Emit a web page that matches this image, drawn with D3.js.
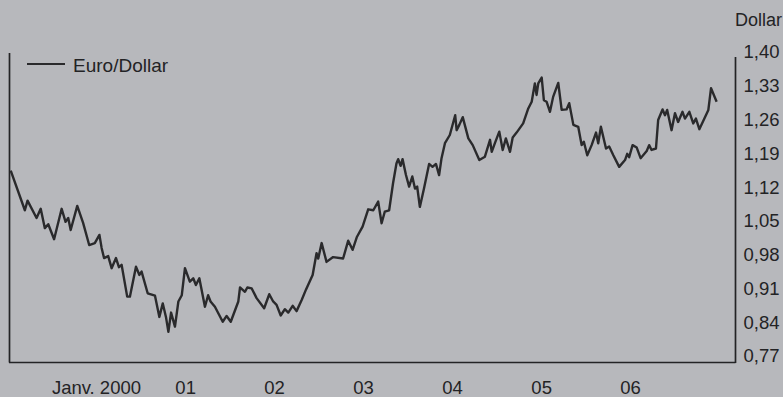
<!DOCTYPE html>
<html>
<head>
<meta charset="utf-8">
<script src="https://d3js.org/d3.v7.min.js"></script>
<style>
  html, body { margin: 0; padding: 0; background: #b7b8bc; }
  svg { display: block; }
  text { font-family: "Liberation Sans", Arial, Helvetica, sans-serif; fill: #232325; }
</style>
</head>
<body>
<svg id="chart" width="783" height="397"></svg>
<script>
// Euro / Dollar exchange rate, 1999–2006
const dates = [
  "1999-01-04","1999-03-03","1999-03-14","1999-04-20","1999-05-07","1999-05-24","1999-06-07","1999-07-01",
  "1999-08-01","1999-08-17","1999-08-28","1999-09-07","1999-10-04","1999-10-28","1999-11-22","1999-12-15",
  "2000-01-03","2000-01-12","2000-01-22","2000-02-08","2000-02-22","2000-03-11","2000-03-23","2000-04-03",
  "2000-04-26","2000-05-07","2000-06-01","2000-06-15","2000-06-24","2000-07-19","2000-08-18","2000-09-05",
  "2000-09-19","2000-10-02","2000-10-12","2000-10-23","2000-11-08","2000-11-22","2000-12-06","2000-12-19",
  "2001-01-08","2001-01-22","2001-02-02","2001-02-16","2001-03-11","2001-03-24","2001-04-03","2001-04-21",
  "2001-05-23","2001-06-08","2001-06-25","2001-07-26","2001-08-02","2001-08-22","2001-09-01","2001-09-19",
  "2001-10-09","2001-11-09","2001-11-30","2001-12-16","2001-12-30","2002-01-16","2002-02-02","2002-02-16",
  "2002-03-06","2002-03-22","2002-04-12","2002-04-30","2002-05-27","2002-06-12","2002-06-19","2002-07-03",
  "2002-07-23","2002-08-19","2002-09-29","2002-10-20","2002-11-07","2002-11-24","2002-12-18","2003-01-10",
  "2003-01-31","2003-02-20","2003-03-06","2003-03-19","2003-04-06","2003-04-22","2003-05-06","2003-05-13",
  "2003-05-23","2003-05-31","2003-06-14","2003-06-27","2003-07-10","2003-07-21","2003-07-30","2003-08-10",
  "2003-08-27","2003-09-17","2003-10-01","2003-10-15","2003-10-28","2003-11-07","2003-11-21","2003-12-11",
  "2004-01-02","2004-01-08","2004-01-19","2004-02-02","2004-02-25","2004-03-14","2004-04-10","2004-05-03",
  "2004-05-24","2004-05-31","2004-06-13","2004-07-01","2004-07-15","2004-07-28","2004-08-14","2004-08-25",
  "2004-09-10","2004-10-07","2004-10-28","2004-11-11","2004-11-24","2004-12-01","2004-12-08","2004-12-22",
  "2004-12-31","2005-01-11","2005-01-25","2005-02-07","2005-02-28","2005-03-14","2005-04-03","2005-04-14",
  "2005-05-01","2005-05-21","2005-06-04","2005-06-13","2005-06-27","2005-07-15","2005-08-02","2005-08-11",
  "2005-08-22","2005-09-12","2005-09-25","2005-10-12","2005-11-05","2005-11-29","2005-12-08","2005-12-16",
  "2005-12-30","2006-01-16","2006-02-01","2006-02-26","2006-03-08","2006-03-18","2006-04-05","2006-04-14",
  "2006-05-02","2006-05-12","2006-05-21","2006-06-08","2006-06-22","2006-07-05","2006-07-23","2006-08-02",
  "2006-08-20","2006-09-05","2006-09-16","2006-09-30","2006-10-14","2006-11-06","2006-11-17","2006-12-10"
];

const rates = [
  1.154,1.072,1.092,1.056,1.075,1.035,1.043,1.012,
  1.075,1.048,1.056,1.031,1.081,1.046,1.000,1.004,
  1.021,0.994,0.973,0.977,0.952,0.973,0.954,0.959,
  0.893,0.893,0.955,0.938,0.945,0.900,0.895,0.851,
  0.879,0.851,0.820,0.860,0.831,0.883,0.896,0.952,
  0.924,0.931,0.917,0.931,0.872,0.896,0.883,0.872,
  0.841,0.853,0.841,0.883,0.912,0.903,0.912,0.910,
  0.890,0.869,0.898,0.883,0.876,0.854,0.867,0.860,
  0.874,0.863,0.886,0.908,0.938,0.983,0.972,1.004,
  0.965,0.975,0.972,1.009,0.990,1.016,1.038,1.074,
  1.072,1.090,1.045,1.069,1.072,1.128,1.169,1.178,
  1.164,1.178,1.145,1.121,1.142,1.117,1.121,1.079,
  1.117,1.168,1.162,1.168,1.145,1.180,1.211,1.228,
  1.269,1.238,1.249,1.265,1.221,1.207,1.176,1.183,
  1.218,1.193,1.211,1.235,1.197,1.221,1.193,1.223,
  1.233,1.252,1.283,1.297,1.335,1.311,1.335,1.347,
  1.300,1.297,1.276,1.307,1.336,1.280,1.281,1.294,
  1.249,1.245,1.207,1.214,1.186,1.207,1.233,1.211,
  1.245,1.200,1.204,1.186,1.162,1.176,1.189,1.182,
  1.207,1.202,1.180,1.195,1.207,1.197,1.200,1.259,
  1.281,1.269,1.280,1.238,1.273,1.255,1.276,1.262,
  1.276,1.252,1.262,1.240,1.255,1.280,1.325,1.297
];

const yTicks = [0.77, 0.84, 0.91, 0.98, 1.05, 1.12, 1.19, 1.26, 1.33, 1.40];
const xTickDates = ["2000-01-01","2001-01-01","2002-01-01","2003-01-01","2004-01-01","2005-01-01","2006-01-01"];
const xTickLabels = ["Janv. 2000","01","02","03","04","05","06"];
const seriesName = "Euro/Dollar";
const unitLabel = "Dollar";

const parse = d3.utcParse("%Y-%m-%d");
const series = dates.map((d, i) => ({ date: parse(d), value: rates[i] }));

const svg = d3.select("#chart");
const ink = "#232325";
const fontSize = 18.5;

const x = d3.scaleUtc()
  .domain([parse("1999-01-01"), parse("2007-01-01")])
  .range([10, 722]);

const y = d3.scaleLinear()
  .domain([0.77, 1.40])
  .range([356, 52]);

const frenchFmt = d3.formatLocale({ decimal: ",", thousands: ".", grouping: [3], currency: ["", " €"] }).format(".2f");

// Frame: left edge, baseline and right value axis
const frame = svg.append("g").attr("stroke", ink).attr("stroke-width", 1.7).attr("fill", "none");
frame.append("line").attr("x1", 9.5).attr("x2", 9.5).attr("y1", 53).attr("y2", 362.5);
frame.append("line").attr("x1", 9).attr("x2", 735.5).attr("y1", 362.5).attr("y2", 362.5);
frame.append("line").attr("x1", 735.5).attr("x2", 735.5).attr("y1", 57).attr("y2", 363);

// Right value axis labels
const yAxis = d3.axisRight(y)
  .tickValues(yTicks)
  .tickSize(0)
  .tickPadding(8)
  .tickFormat(frenchFmt);

svg.append("g")
  .attr("transform", "translate(735.5,0)")
  .call(yAxis)
  .call(g => g.select(".domain").remove())
  .call(g => g.selectAll("text")
    .attr("font-size", fontSize)
    .attr("font-family", "Liberation Sans, Arial, sans-serif")
    .attr("fill", ink));

svg.append("text")
  .attr("x", 735)
  .attr("y", 26)
  .attr("font-size", 18)
  .text(unitLabel);

// Bottom year axis labels
const xAxis = d3.axisBottom(x)
  .tickValues(xTickDates.map(parse))
  .tickSize(0)
  .tickPadding(0)
  .tickFormat((d, i) => xTickLabels[i]);

svg.append("g")
  .attr("transform", "translate(-3,0)")
  .call(xAxis)
  .call(g => g.select(".domain").remove())
  .call(g => g.selectAll("text")
    .attr("y", 394)
    .attr("dy", null)
    .attr("font-size", fontSize)
    .attr("font-family", "Liberation Sans, Arial, sans-serif")
    .attr("fill", ink));

// Exchange-rate line
const line = d3.line()
  .x(d => x(d.date))
  .y(d => y(d.value))
  .curve(d3.curveLinear);

svg.append("path")
  .datum(series)
  .attr("d", line)
  .attr("fill", "none")
  .attr("stroke", "#2a2a2c")
  .attr("stroke-width", 2.4)
  .attr("stroke-linejoin", "round");

// Legend
const legend = svg.append("g");
legend.append("line")
  .attr("x1", 27).attr("x2", 65)
  .attr("y1", 64).attr("y2", 64)
  .attr("stroke", "#2a2a2c").attr("stroke-width", 2.2);
legend.append("text")
  .attr("x", 73).attr("y", 72)
  .attr("font-size", 19)
  .text(seriesName);
</script>
</body>
</html>
